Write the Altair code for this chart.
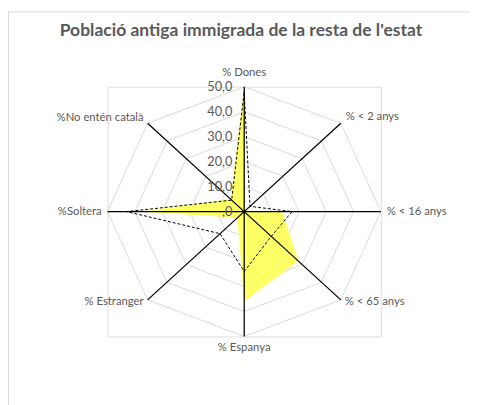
import altair as alt
import pandas as pd

categories = ["% Dones", "% < 2 anys", "% < 16 anys", "% < 65 anys",
              "% Espanya", "% Estranger", "%Soltera", "%No entén català"]
serie_area = [50, 0.5, 14, 28, 36, 3.5, 38, 7]
serie_dash = [48, 3, 17.5, 14, 24, 12.5, 43, 6.5]
levels = [0, 10, 20, 30, 40, 50]
level_labels = [",0", "10,0", "20,0", "30,0", "40,0", "50,0"]
title = "Població antiga immigrada de la resta de l'estat"

FONT = "Lato"
GRAY = "#595959"
n = len(categories)

def closed(values):
    rows = [{"cat": c, "idx": i, "r": v} for i, (c, v) in enumerate(zip(categories, values))]
    rows.append({"cat": categories[0], "idx": n, "r": values[0]})
    return pd.DataFrame(rows)

grid_rows = []
for lv in levels[1:]:
    for i in range(n + 1):
        grid_rows.append({"level": lv, "idx": i, "r": lv})
grid_df = pd.DataFrame(grid_rows)

cat_df = pd.DataFrame({"cat": categories, "idx": list(range(n)), "r": [levels[-1]] * n})
tick_df = pd.DataFrame({"level": levels, "lab": level_labels})

ang = "datum.idx * PI / 4"
xs = alt.Scale(domain=[-50, 50], nice=False, zero=False)
ys = alt.Scale(domain=[-50, 50], nice=False, zero=False)

def polar(ch):
    return ch.transform_calculate(px=f"datum.r * sin({ang})", py=f"datum.r * cos({ang})")

X = alt.X("px:Q", scale=xs, axis=None)
Y = alt.Y("py:Q", scale=ys, axis=None)

border = alt.Chart(pd.DataFrame({"a": [0]})).mark_rect(
    fill=None, stroke="#d9d9d9", strokeWidth=1
).encode(x=alt.value(-100.8), x2=alt.value(420), y=alt.value(-76.2), y2=alt.value(400))

title_mark = alt.Chart(pd.DataFrame({"t": [title]})).mark_text(
    font=FONT, fontSize=17.8, fontWeight="bold", color=GRAY,
    align="center", baseline="middle"
).encode(x=alt.value(135.7), y=alt.value(-56.5), text="t:N")

grid = polar(alt.Chart(grid_df)).mark_line(color="#d9d9d9", strokeWidth=1).encode(
    x=X, y=Y, detail="level:N", order="idx:Q")

area = polar(alt.Chart(closed(serie_area))).mark_line(
    filled=True, fill="#ffff66", stroke=None, strokeWidth=0).encode(x=X, y=Y, order="idx:Q")

spokes = polar(alt.Chart(cat_df)).transform_calculate(z="0").mark_rule(
    color="black", strokeWidth=1.3).encode(x=X, y=Y, x2="z:Q", y2="z:Q")

dash = polar(alt.Chart(closed(serie_dash))).mark_line(
    color="black", strokeWidth=1, strokeDash=[3, 2]).encode(x=X, y=Y, order="idx:Q")

ticks = alt.Chart(tick_df).transform_calculate(px="0", py="datum.level").mark_text(
    align="right", baseline="middle", font=FONT, fontSize=13, color=GRAY, dx=-12
).encode(x=X, y=Y, text="lab:N")

def labels(filt, **kw):
    return polar(alt.Chart(cat_df)).transform_filter(filt).mark_text(
        font=FONT, fontSize=11.5, color=GRAY, baseline="middle", **kw
    ).encode(x=X, y=Y, text="cat:N")

lab_top = labels("datum.idx == 0", align="center", dy=-14)
lab_bot = labels("datum.idx == 4", align="center", dy=12)
lab_r16 = labels("datum.idx == 2", align="left", dx=6)
lab_r2 = labels("datum.idx == 1", align="left", dx=5, dy=-6)
lab_r65 = labels("datum.idx == 3", align="left", dx=4, dy=2)
lab_l = labels("datum.idx == 6", align="right", dx=-6)
lab_l7 = labels("datum.idx == 7", align="right", dx=-4, dy=-5)
lab_l5 = labels("datum.idx == 5", align="right", dx=-4, dy=2)

chart = alt.layer(
    border, title_mark, grid, area, spokes, dash, ticks,
    lab_top, lab_bot, lab_r16, lab_r2, lab_r65, lab_l, lab_l7, lab_l5
).properties(
    width=278, height=254,
    autosize=alt.AutoSizeParams(type="none"),
    padding={"left": 101.3, "top": 76.7, "right": 90.7, "bottom": 66.3},
).configure_view(stroke=None).configure(background="white")

chart.save("out.html", embed_options={"renderer": "svg", "actions": False})
